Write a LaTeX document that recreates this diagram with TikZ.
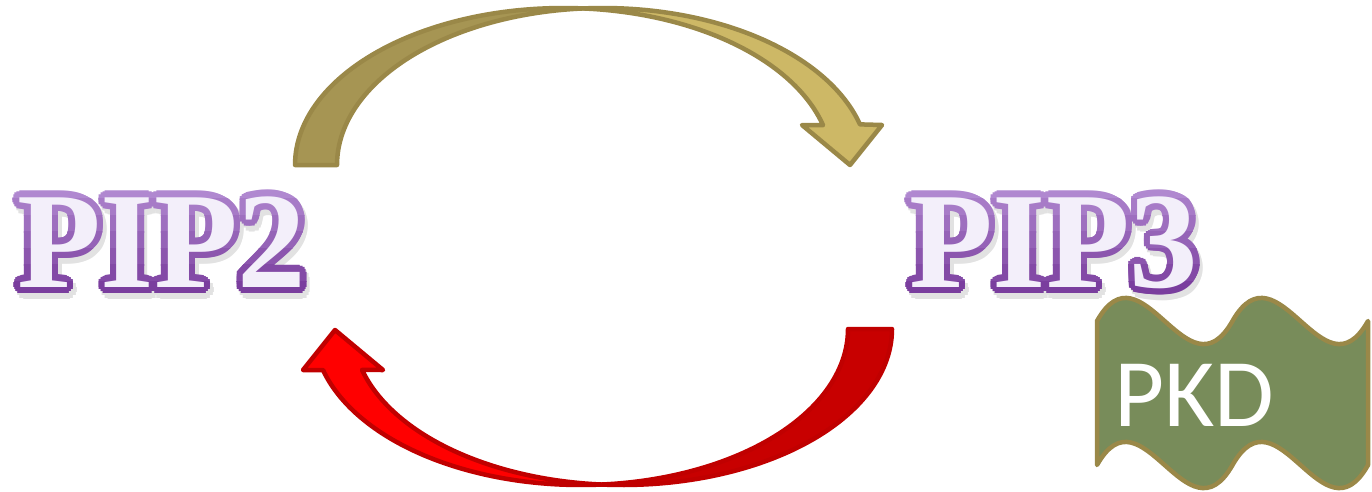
\documentclass[tikz,border=0pt]{standalone}
\usepackage{fontspec}
\setmainfont{Liberation Serif}
\newfontfamily\pkdfont{Carlito}
\definecolor{goldLine}{HTML}{9A8848}
\definecolor{goldDark}{HTML}{A69553}
\definecolor{goldLight}{HTML}{CDB866}
\definecolor{redLine}{HTML}{C00000}
\definecolor{redDark}{HTML}{C80000}
\definecolor{redBright}{HTML}{FF0000}
\definecolor{pkdFill}{HTML}{788C5A}
\definecolor{pipTop}{HTML}{B088D0}
\definecolor{pipBot}{HTML}{7A3E9E}
\definecolor{pipFill}{HTML}{F3EFFA}
\definecolor{pipShadow}{HTML}{E2E2E2}
\tikzset{
  piptxt/.style={anchor=base west, inner sep=0pt, font=\bfseries\fontsize{137}{137}\selectfont},
  goldline/.style={draw=goldLine, line width=4.5pt, line join=round},
  redline/.style={draw=redLine, line width=4.5pt, line join=round},
}
% #1 x, #2 baseline y, #3 character
\newcommand\pipletter[3]{%
  \foreach \band in {0,...,6} {%
    \pgfmathtruncatemacro\pct{100-\band*100/6}%
    \begin{scope}
      \clip ({#1-20},{182+\band*16.5}) rectangle ({#1+130},{199+\band*16.5});
      \foreach \ang in {0,22.5,...,337.5}
        \node[piptxt, text={pipTop!\pct!pipBot}] at ({#1+6.5*cos(\ang)},{#2+6.5*sin(\ang)}) {#3};
    \end{scope}
  }%
  \node[piptxt, text=pipFill] at (#1,#2) {#3};%
}
\newcommand\pipshadow[3]{%
  \foreach \ang in {0,30,...,330}
    \node[piptxt, text=pipShadow] at ({#1+3+7*cos(\ang)},{#2+5+7*sin(\ang)}) {#3};%
}
\begin{document}
\begin{tikzpicture}[x=1pt,y=-1pt]
\useasboundingbox (0,0) rectangle (1372,491);

% top curved arrow (PIP2 -> PIP3)
\draw[goldline, fill=goldDark]
  plot[domain=180:85.75, samples=60] ({563.4+268.4*cos(\x)},{165-157*sin(\x)})
  -- plot[domain=94.25:180, samples=60] ({603+266*cos(\x)},{165-157*sin(\x)})
  -- cycle;
\draw[goldline, fill=goldLight]
  plot[domain=94.25:15, samples=60] ({603+266*cos(\x)},{165-157*sin(\x)})
  -- (882,125) -- (850,165) -- (802,125)
  -- plot[domain=14.7:85.75, samples=60] ({563.4+268.4*cos(\x)},{165-157*sin(\x)})
  -- cycle;

% bottom curved arrow (PIP3 -> PIP2)
\draw[redline, fill=redDark]
  plot[domain=0:94.43, samples=60] ({622.3+269.7*cos(\x)},{329+156*sin(\x)})
  -- plot[domain=85.57:0, samples=60] ({580.8+267.2*cos(\x)},{329+156*sin(\x)})
  -- cycle;
\draw[redline, fill=redBright]
  plot[domain=85.57:164.75, samples=60] ({580.8+267.2*cos(\x)},{329+156*sin(\x)})
  -- (303,370) -- (335,330) -- (383,370)
  -- plot[domain=164.8:94.43, samples=60] ({622.3+269.7*cos(\x)},{329+156*sin(\x)})
  -- cycle;

% PKD wave
\draw[draw=goldLine, line width=4.5pt, line join=round, fill=pkdFill]
  (1097,321) .. controls (1142,241) and (1187,401) .. (1232.5,321)
  .. controls (1278,241) and (1323,401) .. (1368,321)
  -- (1368,465)
  .. controls (1323,545) and (1278,385) .. (1232.5,465)
  .. controls (1187,545) and (1142,385) .. (1097,465)
  -- cycle;
\node[anchor=base west, inner sep=0pt, text=white, font=\pkdfont\fontsize{97}{97}\selectfont] (pkd) at (1114,426) {PKD};

% shadows
\pipshadow{17}{287}{P}\pipshadow{100.7}{287}{I}\pipshadow{154}{287}{P}\pipshadow{237.7}{287}{2}
\pipshadow{909}{287}{P}\pipshadow{992.7}{287}{I}\pipshadow{1046}{287}{P}\pipshadow{1129.7}{287}{3}

% PIP2
\pipletter{17}{287}{P}\pipletter{100.7}{287}{I}\pipletter{154}{287}{P}\pipletter{237.7}{287}{2}
% PIP3
\pipletter{909}{287}{P}\pipletter{992.7}{287}{I}\pipletter{1046}{287}{P}\pipletter{1129.7}{287}{3}

\coordinate (pip2) at (160,240);
\coordinate (pip3) at (1055,240);
\end{tikzpicture}
\end{document}
